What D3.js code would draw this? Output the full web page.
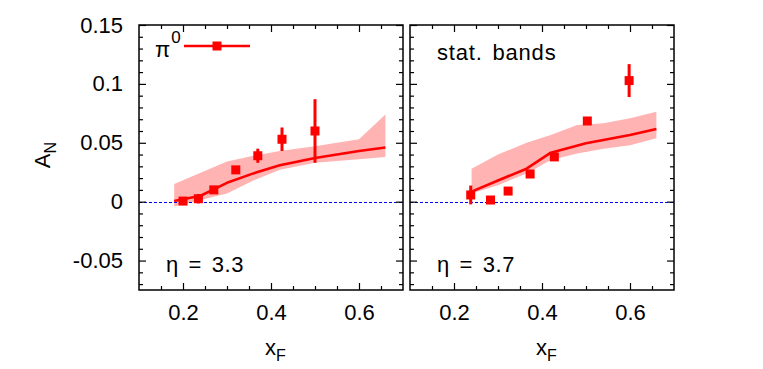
<!DOCTYPE html>
<html>
<head>
<meta charset="utf-8">
<script src="https://cdn.jsdelivr.net/npm/d3@7"></script>
<style>
  html, body { margin: 0; padding: 0; background: #fff; }
  svg { display: block; }
  text { font-family: "Liberation Sans", Arial, Helvetica, sans-serif; fill: #000; }
</style>
</head>
<body>
<svg id="chart" width="763" height="369"></svg>
<script>
// ---------- data ----------
const yTickValues = [-0.05, 0, 0.05, 0.1, 0.15];
const yTickLabels = ["-0.05", "0", "0.05", "0.1", "0.15"];
const xTickValues = [0.2, 0.4, 0.6];
const xTickLabels = ["0.2", "0.4", "0.6"];

// panel eta = 3.3
const dataXLeft = [0.20, 0.235, 0.27, 0.32, 0.37, 0.425, 0.50];
const dataYLeft = [0.0005, 0.0025, 0.010, 0.027, 0.039, 0.053, 0.060];
const dataErrLeft = [0.002, 0.004, 0.002, 0.002, 0.006, 0.010, 0.027];
const curveXLeft = [0.18, 0.24, 0.30, 0.36, 0.42, 0.50, 0.60, 0.66];
const curveYLeft = [0.0006, 0.005, 0.016, 0.024, 0.031, 0.037, 0.043, 0.046];
const bandXLeft = [0.18, 0.30, 0.36, 0.42, 0.50, 0.60, 0.66];
const bandUpLeft = [0.015, 0.034, 0.039, 0.043, 0.047, 0.053, 0.074];
const bandLoLeft = [-0.004, 0.007, 0.018, 0.027, 0.033, 0.036, 0.038];

// panel eta = 3.7
const dataXRight = [0.238, 0.283, 0.323, 0.373, 0.428, 0.503, 0.598];
const dataYRight = [0.0057, 0.0014, 0.009, 0.0235, 0.038, 0.0685, 0.1028];
const dataErrRight = [0.008, 0.002, 0.002, 0.002, 0.002, 0.003, 0.014];
const curveXRight = [0.24, 0.30, 0.365, 0.42, 0.50, 0.60, 0.66];
const curveYRight = [0.0085, 0.018, 0.028, 0.0416, 0.0496, 0.0566, 0.0617];
const bandXRight = [0.24, 0.30, 0.365, 0.42, 0.48, 0.54, 0.60, 0.66];
const bandUpRight = [0.028, 0.040, 0.050, 0.0566, 0.065, 0.0666, 0.0708, 0.0764];
const bandLoRight = [0.007, 0.014, 0.024, 0.0354, 0.041, 0.045, 0.048, 0.0538];

const panelLabels = ["η = 3.3", "η = 3.7"];

// ---------- layout ----------
const svg = d3.select("#chart");
const yTop = 25, yBottom = 290;
const y = d3.scaleLinear().domain([-0.075, 0.15]).range([yBottom, yTop]);
const FS = 22;

const panels = [
  { x0: 139, x1: 403, dx: dataXLeft, dy: dataYLeft, de: dataErrLeft,
    cx: curveXLeft, cy: curveYLeft, bx: bandXLeft, bu: bandUpLeft, bl: bandLoLeft,
    label: panelLabels[0], yLabels: true },
  { x0: 410, x1: 674, dx: dataXRight, dy: dataYRight, de: dataErrRight,
    cx: curveXRight, cy: curveYRight, bx: bandXRight, bu: bandUpRight, bl: bandLoRight,
    label: panelLabels[1], yLabels: false }
];

const red = "#ff0000";
const bandColor = "#ffb3b3";

panels.forEach((p, pi) => {
  const x = d3.scaleLinear().domain([0.1, 0.7]).range([p.x0, p.x1]);
  const g = svg.append("g");

  // band
  const band = p.bx.map((v, i) => ({ x: v, lo: p.bl[i], hi: p.bu[i] }));
  g.append("path")
    .datum(band)
    .attr("fill", bandColor)
    .attr("stroke", "none")
    .attr("d", d3.area().x(d => x(d.x)).y0(d => y(d.lo)).y1(d => y(d.hi)));

  // zero line
  const y0 = Math.round(y(0)) + 0.5;
  g.append("line")
    .attr("x1", p.x0).attr("x2", p.x1)
    .attr("y1", y0).attr("y2", y0)
    .attr("stroke", "#0000ff").attr("stroke-width", 1)
    .attr("shape-rendering", "crispEdges")
    .attr("stroke-dasharray", "3,2");

  // curve
  const curve = p.cx.map((v, i) => ({ x: v, y: p.cy[i] }));
  g.append("path")
    .datum(curve)
    .attr("fill", "none")
    .attr("stroke", red)
    .attr("stroke-width", 2.6)
    .attr("stroke-linejoin", "round")
    .attr("d", d3.line().x(d => x(d.x)).y(d => y(d.y)));

  // data points
  const pts = p.dx.map((v, i) => ({ x: v, y: p.dy[i], e: p.de[i] }));
  g.selectAll(".eb").data(pts).enter().append("line")
    .attr("x1", d => x(d.x)).attr("x2", d => x(d.x))
    .attr("y1", d => y(d.y - d.e)).attr("y2", d => y(d.y + d.e))
    .attr("stroke", red).attr("stroke-width", 3);
  const ms = 9;
  g.selectAll(".pt").data(pts).enter().append("rect")
    .attr("x", d => x(d.x) - ms / 2).attr("y", d => y(d.y) - ms / 2)
    .attr("width", ms).attr("height", ms)
    .attr("fill", red);

  // axes with inward ticks
  const minorX = d3.range(0.15, 0.7, 0.05).filter(v => !xTickValues.some(t => Math.abs(t - v) < 1e-6));
  const minorY = d3.range(-0.07, 0.15, 0.01).filter(v => !yTickValues.some(t => Math.abs(t - v) < 1e-6));

  const axB = d3.axisBottom(x).tickValues(xTickValues).tickSize(-7).tickPadding(14)
    .tickFormat((d, i) => xTickLabels[i]);
  const axT = d3.axisTop(x).tickValues(xTickValues).tickSize(-7).tickFormat("");
  const axBm = d3.axisBottom(x).tickValues(minorX).tickSize(-4).tickFormat("");
  const axTm = d3.axisTop(x).tickValues(minorX).tickSize(-4).tickFormat("");
  const axL = d3.axisLeft(y).tickValues(yTickValues).tickSize(-7).tickPadding(16)
    .tickFormat((d, i) => p.yLabels ? yTickLabels[i] : "");
  const axR = d3.axisRight(y).tickValues(yTickValues).tickSize(-7).tickFormat("");
  const axLm = d3.axisLeft(y).tickValues(minorY).tickSize(-4).tickFormat("");
  const axRm = d3.axisRight(y).tickValues(minorY).tickSize(-4).tickFormat("");

  const addAxis = (ax, tx, ty) => {
    const a = g.append("g").attr("transform", `translate(${tx},${ty})`).call(ax);
    a.select(".domain").remove();
    a.selectAll(".tick line").attr("stroke", "#000").attr("stroke-width", 1.2);
    a.selectAll("text").attr("font-size", FS)
      .style("font-family", '"Liberation Sans", Arial, sans-serif').attr("fill", "#000");
    return a;
  };
  addAxis(axB, 0, yBottom);
  addAxis(axT, 0, yTop);
  addAxis(axBm, 0, yBottom);
  addAxis(axTm, 0, yTop);
  addAxis(axL, p.x0, 0);
  addAxis(axR, p.x1, 0);
  addAxis(axLm, p.x0, 0);
  addAxis(axRm, p.x1, 0);

  // frame
  g.append("rect")
    .attr("x", p.x0).attr("y", yTop)
    .attr("width", p.x1 - p.x0).attr("height", yBottom - yTop)
    .attr("fill", "none").attr("stroke", "#000").attr("stroke-width", 1.5);

  // panel label
  g.append("text")
    .attr("x", p.x0 + 27).attr("y", 272)
    .attr("font-size", FS)
    .attr("letter-spacing", 0.6)
    .attr("word-spacing", 3)
    .text(p.label);

  // x axis title
  const xt = g.append("text")
    .attr("x", (p.x0 + p.x1) / 2 - 6).attr("y", 355)
    .attr("font-size", FS);
  xt.append("tspan").text("x");
  xt.append("tspan").attr("font-size", 16).attr("dy", 6).text("F");
});

// y axis title
const yt = svg.append("text")
  .attr("transform", "translate(50,155) rotate(-90)")
  .attr("text-anchor", "middle")
  .attr("font-size", FS);
yt.append("tspan").text("A");
yt.append("tspan").attr("font-size", 16).attr("dy", 6).text("N");

// legend (left panel)
const lg = svg.append("g");
const lt = lg.append("text").attr("x", 155).attr("y", 57).attr("font-size", FS);
lt.append("tspan").text("π");
lt.append("tspan").attr("font-size", 17).attr("dy", -14).attr("dx", 1).text("0");
lg.append("line").attr("x1", 184).attr("x2", 250).attr("y1", 46).attr("y2", 46)
  .attr("stroke", red).attr("stroke-width", 2.6);
lg.append("rect").attr("x", 217 - 4.5).attr("y", 46 - 4.5).attr("width", 9).attr("height", 9)
  .attr("fill", red);

// stat. bands text (right panel)
svg.append("text").attr("x", 437).attr("y", 60).attr("font-size", FS)
  .attr("letter-spacing", 0.8).attr("word-spacing", 3).text("stat. bands");
</script>
</body>
</html>
